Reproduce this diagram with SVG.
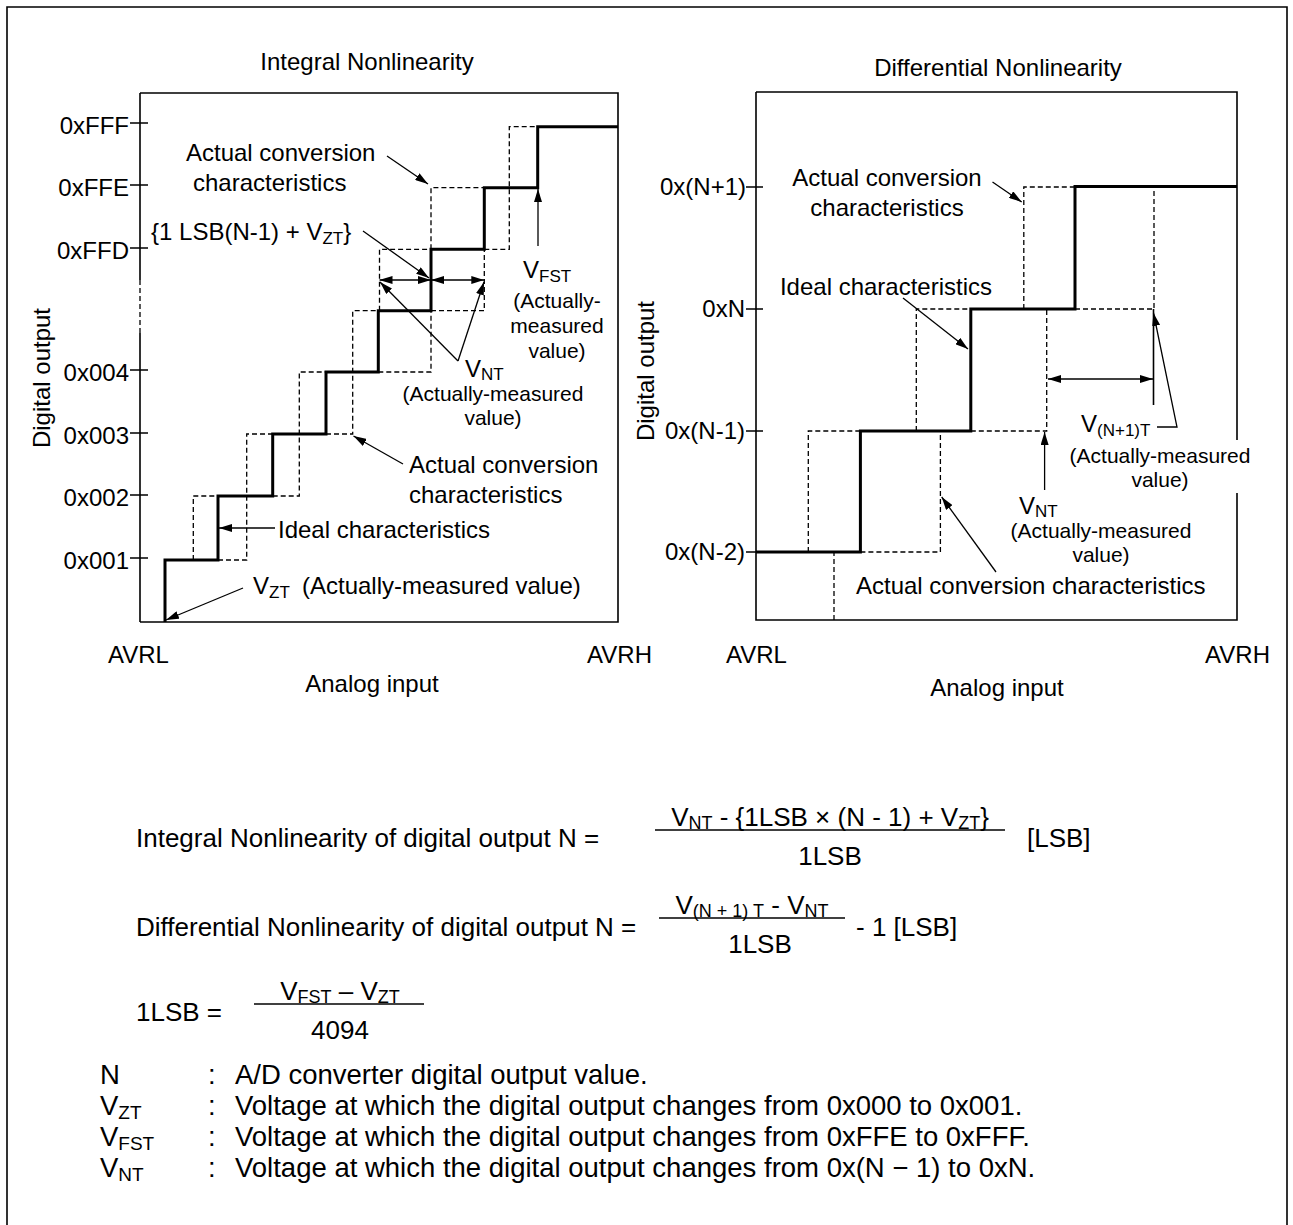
<svg xmlns="http://www.w3.org/2000/svg" width="1293" height="1225" viewBox="0 0 1293 1225">
<style>
text { font-family: "Liberation Sans", Arial, sans-serif; font-size: 24px; fill: #000; }
.s { font-size: 21px; }
.f { font-size: 26px; }
.g { font-size: 27.5px; }
.m { text-anchor: middle; }
.e { text-anchor: end; }
.ln { fill: none; stroke: #000; stroke-width: 1.6; }
.stair { fill: none; stroke: #000; stroke-width: 3; }
.dash { fill: none; stroke: #000; stroke-width: 1.3; stroke-dasharray: 5 3; }
.arr { fill: none; stroke: #000; stroke-width: 1.3; marker-end: url(#ah); }
.arr2 { fill: none; stroke: #000; stroke-width: 1.3; marker-end: url(#ah); marker-start: url(#ah); }
</style>
<defs>
<marker id="ah" viewBox="0 0 13 8" refX="13" refY="4" markerWidth="13" markerHeight="8" markerUnits="userSpaceOnUse" orient="auto-start-reverse">
<path d="M0,0 L13,4 L0,8 z" fill="#000"/>
</marker>
</defs>
<rect width="1293" height="1225" fill="#fff"/>
<path class="ln" d="M7,1225 V7 H1287 V1225" stroke-width="2"/>

<g id="left-chart">
<text class="m" x="367" y="70">Integral Nonlinearity</text>
<path class="ln" d="M140,93 H618 V622 H140"/>
<path class="ln" d="M140,93 V280 M140,333 V622"/>
<path class="dash" d="M140,280 V333"/>
<path class="ln" d="M130,123 H148 M130,185 H148 M130,248 H148 M130,370 H148 M130,433 H148 M130,495 H148 M130,558 H148"/>
<text class="e" x="129" y="134">0xFFF</text>
<text class="e" x="129" y="196">0xFFE</text>
<text class="e" x="129" y="259">0xFFD</text>
<text class="e" x="129" y="381">0x004</text>
<text class="e" x="129" y="444">0x003</text>
<text class="e" x="129" y="506">0x002</text>
<text class="e" x="129" y="569">0x001</text>
<text class="m" transform="translate(50,378) rotate(-90)">Digital output</text>
<path class="stair" d="M165,622 V560 H218 V496 H272.7 V434 H326 V372 H378.3 V310.7 H431 V249.3 H484.3 V187.7 H537.7 V126.7 H618"/>
<path class="dash" d="M193.3,560 V496 H218 M218,560 H246.7 V434 H272.7 M272.7,496 H299.3 V372 H326 M326,434 H352.7 V310.7 H378.3 M378.3,372 H431 V310.7 M379.5,310.7 V249.3 H431 M431,310.7 H484.3 V249.3 M484.3,249.3 H509.3 V126.7 H537.7 M431,249.3 V187.7 H484.3"/>
<text x="186" y="161">Actual conversion</text>
<text x="193" y="191">characteristics</text>
<text x="151" y="240">{1 LSB(N-1) + V<tspan font-size="17" dy="4">ZT</tspan><tspan dy="-4">}</tspan></text>
<text x="523" y="278">V<tspan font-size="17" dy="4">FST</tspan></text>
<text class="s m" x="557" y="308">(Actually-</text>
<text class="s m" x="557" y="333">measured</text>
<text class="s m" x="557" y="358">value)</text>
<text x="465" y="377">V<tspan font-size="17" dy="3">NT</tspan></text>
<text class="s m" x="493" y="401">(Actually-measured</text>
<text class="s m" x="493" y="425">value)</text>
<text x="409" y="473">Actual conversion</text>
<text x="409" y="503">characteristics</text>
<text x="278" y="538">Ideal characteristics</text>
<text x="253" y="594">V<tspan font-size="17" dy="4">ZT</tspan></text>
<text x="302" y="594">(Actually-measured value)</text>
<text x="108" y="663">AVRL</text>
<text class="e" x="652" y="663">AVRH</text>
<text class="m" x="372" y="692">Analog input</text>
</g>

<g id="left-connectors">
<path class="arr" d="M387,156 L428,184"/>
<path class="arr" d="M363,231 L429,278"/>
<path class="arr2" d="M379.5,280 H431"/>
<path class="arr2" d="M431,280 H484.3"/>
<path class="arr" d="M458,361 L380,282"/>
<path class="arr" d="M458,361 L484,282"/>
<path class="arr" d="M538,246 V189"/>
<path class="arr" d="M275,528 H219"/>
<path class="arr" d="M403,464 L353.5,436"/>
<path class="arr" d="M243,588 L166,620"/>
</g>

<g id="right-chart">
<text class="m" x="998" y="76">Differential Nonlinearity</text>
<path class="ln" d="M756,92 H1237 V440 M1237,493 V620 H756 V92"/>
<path class="ln" d="M746,187 H763 M746,309 H763 M746,431 H763 M746,552 H763"/>
<text class="e" x="746" y="195">0x(N+1)</text>
<text class="e" x="745" y="317">0xN</text>
<text class="e" x="745" y="439">0x(N-1)</text>
<text class="e" x="745" y="560">0x(N-2)</text>
<text class="m" transform="translate(654,371) rotate(-90)">Digital output</text>
<path class="stair" d="M756,552 H860.4 V431 H970.8 V309 H1075 V186.5 H1237"/>
<path class="dash" d="M808.3,552 V431 H860.4 M834,620 V552 M860.4,552 H940.4 V431 M916.3,431 V309 H970.8 M970.8,431 H1046.7 V309 M1023.8,309 V187 H1075 M1075,309 H1154 V187"/>
<text class="m" x="887" y="186">Actual conversion</text>
<text class="m" x="887" y="216">characteristics</text>
<text class="m" x="886" y="295">Ideal characteristics</text>
<text x="1081" y="432">V<tspan font-size="17" dy="4">(N+1)T</tspan></text>
<text class="s m" x="1160" y="463">(Actually-measured</text>
<text class="s m" x="1160" y="487">value)</text>
<text x="1019" y="514">V<tspan font-size="17" dy="3">NT</tspan></text>
<text class="s m" x="1101" y="538">(Actually-measured</text>
<text class="s m" x="1101" y="562">value)</text>
<text x="856" y="594">Actual conversion characteristics</text>
<text x="726" y="663">AVRL</text>
<text class="e" x="1270" y="663">AVRH</text>
<text class="m" x="997" y="696">Analog input</text>
</g>

<g id="right-connectors">
<path class="arr" d="M992.5,182 L1021.7,202"/>
<path class="arr" d="M903,298 L968,349"/>
<path class="arr" d="M1157,427 H1177 L1153.5,313"/>
<path class="arr2" d="M1048,379 H1153"/>
<path class="ln" stroke-width="1.3" d="M1153.5,309 V405"/>
<path class="arr" d="M1044.6,490 V432"/>
<path class="arr" d="M996,572 L941.7,497"/>
</g>

<g id="formulas">
<text class="f" x="136" y="847">Integral Nonlinearity of digital output N =</text>
<text class="f m" x="830" y="826">V<tspan font-size="18" dy="3">NT</tspan><tspan dy="-3"> - {1LSB × (N - 1) + V</tspan><tspan font-size="18" dy="3">ZT</tspan><tspan dy="-3">}</tspan></text>
<path class="ln" d="M655,830 H1005"/>
<text class="f m" x="830" y="865">1LSB</text>
<text class="f" x="1027" y="847">[LSB]</text>

<text class="f" x="136" y="936">Differential Nonlinearity of digital output N =</text>
<text class="f m" x="752" y="914">V<tspan font-size="18" dy="3">(N + 1) T</tspan><tspan dy="-3"> - V</tspan><tspan font-size="18" dy="3">NT</tspan></text>
<path class="ln" d="M659,918 H845"/>
<text class="f m" x="760" y="953">1LSB</text>
<text class="f" x="856" y="936">- 1 [LSB]</text>

<text class="f" x="136" y="1021">1LSB =</text>
<text class="f m" x="340" y="1000">V<tspan font-size="18" dy="3">FST</tspan><tspan dy="-3"> – V</tspan><tspan font-size="18" dy="3">ZT</tspan></text>
<path class="ln" d="M254,1004 H424"/>
<text class="f m" x="340" y="1039">4094</text>
</g>

<g id="legend">
<text class="g" x="100" y="1084">N</text>
<text class="g" x="208" y="1084">:</text>
<text class="g" x="235" y="1084">A/D converter digital output value.</text>
<text class="g" x="100" y="1115">V<tspan font-size="19" dy="4">ZT</tspan></text>
<text class="g" x="208" y="1115">:</text>
<text class="g" x="235" y="1115">Voltage at which the digital output changes from 0x000 to 0x001.</text>
<text class="g" x="100" y="1146">V<tspan font-size="19" dy="4">FST</tspan></text>
<text class="g" x="208" y="1146">:</text>
<text class="g" x="235" y="1146">Voltage at which the digital output changes from 0xFFE to 0xFFF.</text>
<text class="g" x="100" y="1177">V<tspan font-size="19" dy="4">NT</tspan></text>
<text class="g" x="208" y="1177">:</text>
<text class="g" x="235" y="1177">Voltage at which the digital output changes from 0x(N − 1) to 0xN.</text>
</g>
</svg>
